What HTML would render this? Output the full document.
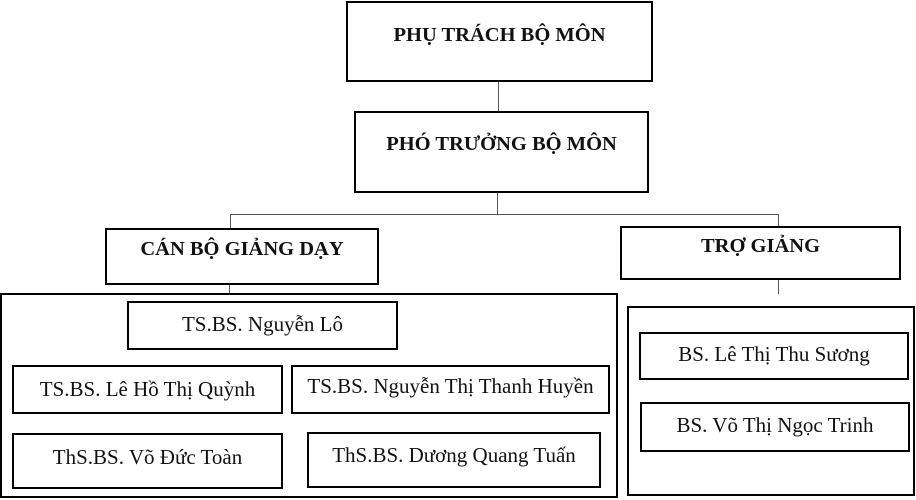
<!DOCTYPE html>
<html><head><meta charset="utf-8"><style>
body{margin:0;width:916px;height:500px;background:#fff;position:relative;overflow:hidden;font-family:"Liberation Serif",serif;}
.b{position:absolute;border:2px solid #000;box-sizing:border-box;background:#fff;}
.t{position:absolute;left:0;right:0;text-align:center;white-space:nowrap;color:#111;}
.h{font-weight:bold;font-size:20.5px;}
.n{font-size:21px;}
.l{position:absolute;background:#555;}
</style></head><body>
<div class="l" style="left:498px;top:81px;width:1px;height:30px"></div>
<div class="l" style="left:497px;top:192px;width:1px;height:23px"></div>
<div class="l" style="left:230px;top:214px;width:549px;height:1px"></div>
<div class="l" style="left:230px;top:214px;width:1px;height:15px"></div>
<div class="l" style="left:778px;top:214px;width:1px;height:13px"></div>
<div class="l" style="left:229px;top:283px;width:1px;height:11px"></div>
<div class="l" style="left:778px;top:278px;width:1px;height:16px"></div>

<div class="b" style="left:346px;top:1px;width:307px;height:81px"><div class="t h" style="top:21px">PHỤ TRÁCH BỘ MÔN</div></div>
<div class="b" style="left:354px;top:111px;width:295px;height:82px"><div class="t h" style="top:20px">PHÓ TRƯỞNG BỘ MÔN</div></div>
<div class="b" style="left:105px;top:228px;width:274px;height:57px"><div class="t h" style="top:8px">CÁN BỘ GIẢNG DẠY</div></div>
<div class="b" style="left:620px;top:226px;width:281px;height:54px"><div class="t h" style="top:7px">TRỢ GIẢNG</div></div>

<div class="b" style="left:0;top:293px;width:618px;height:205px"></div>
<div class="b" style="left:627px;top:306px;width:288px;height:190px"></div>

<div class="b" style="left:127px;top:301px;width:271px;height:49px"><div class="t n" style="top:9px">TS.BS. Nguyễn Lô</div></div>
<div class="b" style="left:12px;top:365px;width:271px;height:49px"><div class="t n" style="top:10px">TS.BS. Lê Hồ Thị Quỳnh</div></div>
<div class="b" style="left:291px;top:365px;width:319px;height:49px"><div class="t n" style="top:7px">TS.BS. Nguyễn Thị Thanh Huyền</div></div>
<div class="b" style="left:12px;top:433px;width:271px;height:56px"><div class="t n" style="top:10px">ThS.BS. Võ Đức Toàn</div></div>
<div class="b" style="left:307px;top:432px;width:294px;height:56px"><div class="t n" style="top:9px">ThS.BS. Dương Quang Tuấn</div></div>
<div class="b" style="left:639px;top:332px;width:270px;height:48px"><div class="t n" style="top:8px">BS. Lê Thị Thu Sương</div></div>
<div class="b" style="left:640px;top:402px;width:270px;height:50px"><div class="t n" style="top:9px">BS. Võ Thị Ngọc Trinh</div></div>
</body></html>
